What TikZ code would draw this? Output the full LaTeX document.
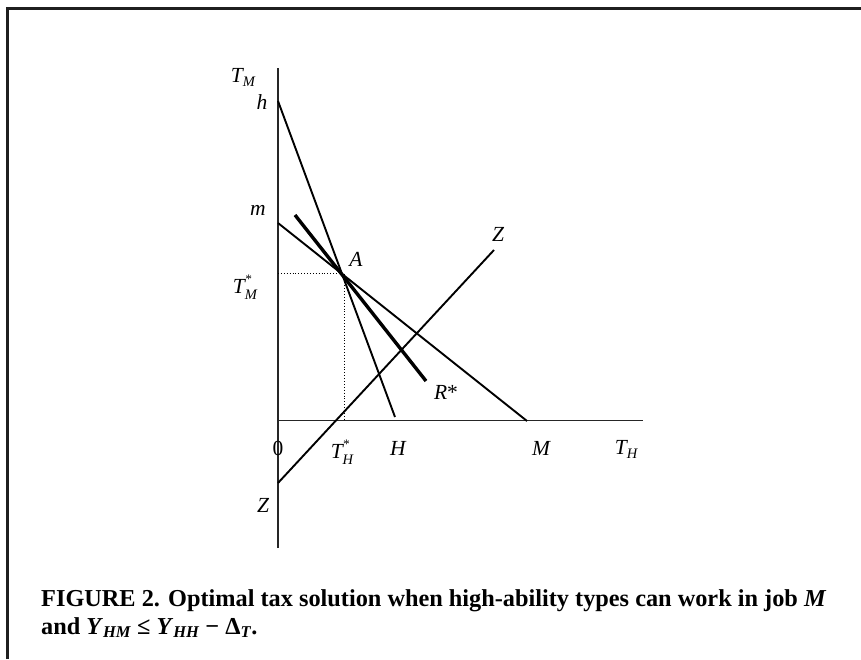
\documentclass[tikz,border=0pt]{standalone}
\usepackage{fontspec}
\setmainfont{Liberation Serif}
\newcommand\lsub[2]{\textit{#1}\raisebox{-0.4ex}{\fontsize{14.5}{14.5}\selectfont\textit{#2}}}
\newcommand\lstar[2]{\textit{#1}\makebox[0pt][l]{\raisebox{10.8pt}{\fontsize{13}{13}\selectfont *}}\raisebox{-5.5pt}{\fontsize{14.5}{14.5}\selectfont\textit{#2}}}
\begin{document}
\begin{tikzpicture}[x=1pt,y=-1pt,
  lbl/.style={font=\fontsize{21.5}{23}\selectfont\itshape, inner sep=0pt},
  axisline/.style={line width=1.3pt, draw=black!85},
  curve/.style={line width=1.9pt},
  thickcurve/.style={line width=3.4pt},
  dotline/.style={line width=0.9pt, dotted},
  frameline/.style={line width=3pt, draw=black!88},
  captxt/.style={anchor=base west, inner sep=0pt, font=\fontsize{24.3}{26}\selectfont\bfseries}]
\useasboundingbox (0,0) rectangle (861,659);
% frame
\coordinate (fr1) at (7.5,659);
\coordinate (fr2) at (7.5,8.5);
\coordinate (fr3) at (861,8.5);
\draw[frameline] (fr1) -- (fr2) -- (fr3);
% axes
\coordinate (O) at (278,420.5);
\coordinate (ytop) at (278,68);
\coordinate (ybot) at (278,548);
\coordinate (xend) at (643,420.5);
\draw[axisline] (ybot) -- (ytop);
\draw[axisline] (O) -- (xend);
% points
\coordinate (hpt) at (278,101);
\coordinate (Hpt) at (395,417);
\coordinate (mpt) at (278,223);
\coordinate (Mpt) at (527,421);
\coordinate (A) at (344,273);
\coordinate (Rs) at (295,215);
\coordinate (Re) at (426,381);
\coordinate (Zs) at (278,483);
\coordinate (Ze) at (494,250);
\coordinate (TMs) at (278,273);
\coordinate (THs) at (344,420.5);
% lines
\draw[dotline] (TMs) -- (A) -- (THs);
\draw[curve] (hpt) -- (Hpt);
\draw[curve] (mpt) -- (Mpt);
\draw[thickcurve] (Rs) -- (Re);
\draw[curve] (Zs) -- (Ze);
% labels
\node[lbl] (lTM) at (243,77) {\lsub{T}{M}};
\node[lbl] (lh) at (262,102) {h};
\node[lbl] (lm) at (258,210) {m};
\node[lbl] (lA) at (356,259) {A};
\node[lbl] (lTMs) at (245,287) {\lstar{T}{M}};
\node[lbl] (l0) at (278,448) {\upshape 0};
\node[lbl] (lTHs) at (342,452) {\lstar{T}{H}};
\node[lbl] (lH) at (398,448) {H};
\node[lbl] (lM) at (541,448) {M};
\node[lbl] (lTH) at (626,449) {\lsub{T}{H}};
\node[lbl] (lR) at (446,392) {R\upshape *};
\node[lbl] (lZt) at (498,234) {Z};
\node[lbl] (lZb) at (263,505) {Z};
% caption
\node[captxt] (cap1) at (41,606)
  {FIGURE 2. Optimal tax solution when high-ability types can work in job \textit{M}};
\node[captxt] (cap2) at (41,634)
  {and \textit{Y}\raisebox{-0.35ex}{\fontsize{16.5}{16.5}\selectfont\textit{HM}} ≤ \textit{Y}\raisebox{-0.35ex}{\fontsize{16.5}{16.5}\selectfont\textit{HH}} − Δ\raisebox{-0.35ex}{\fontsize{16.5}{16.5}\selectfont\textit{T}}.};
\end{tikzpicture}
\end{document}
